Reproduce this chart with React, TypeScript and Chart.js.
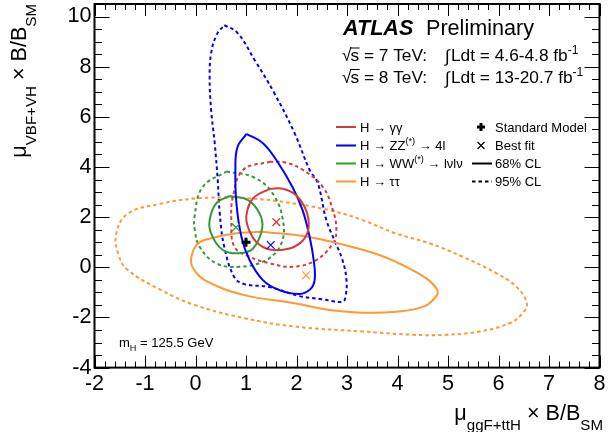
import React, { useEffect, useRef } from 'react';
import { Chart, registerables } from 'chart.js';

Chart.register(...registerables);

// ---------- data ----------
const xTicks = [-2, -1, 0, 1, 2, 3, 4, 5, 6, 7, 8];
const yTicks = [-4, -2, 0, 2, 4, 6, 8, 10];
const xRange = [-2, 8];
const yRange = [-4, 10.5];
const xMinorStep = 0.2;
const yMinorStep = 0.5;

// contours: [mu_ggF+ttH, mu_VBF+VH]
const gg68 = [[1.47,3.13],[1.73,3.13],[1.99,2.87],[2.19,2.27],[2.24,1.60],[2.13,1.08],[1.86,0.75],[1.47,0.71],[1.20,1.02],[1.04,1.60],[1.01,2.10],[1.14,2.75],[1.47,3.13]];
const gg95 = [[1.47,4.21],[1.80,4.17],[2.13,3.88],[2.52,3.21],[2.72,2.28],[2.79,1.48],[2.72,0.95],[2.39,0.29],[1.93,0.02],[1.47,0.16],[1.07,0.42],[0.77,0.82],[0.71,1.88],[0.74,2.81],[0.94,3.88],[1.47,4.21]];
const zz68 = [[1.01,5.32],[1.33,4.96],[1.60,4.28],[1.92,3.20],[2.12,2.28],[2.26,1.21],[2.34,0.29],[2.36,-0.50],[2.27,-0.88],[2.06,-1.06],[1.66,-0.91],[1.33,-0.50],[1.07,0.29],[0.91,1.21],[0.81,2.56],[0.79,3.88],[0.83,4.79],[1.01,5.32]];
const zz95 = [[0.57,9.66],[0.83,9.35],[1.17,8.27],[1.56,6.95],[1.96,5.36],[2.26,3.88],[2.42,3.36],[2.59,1.89],[2.75,1.08],[2.91,0.29],[2.99,-0.51],[2.97,-1.18],[2.91,-1.38],[2.50,-1.27],[2.06,-1.15],[1.47,-0.79],[0.97,-0.67],[0.77,-0.40],[0.57,0.81],[0.48,2.16],[0.44,3.48],[0.38,4.96],[0.31,6.27],[0.28,7.59],[0.31,8.55],[0.42,9.27],[0.57,9.66]];
const ww68 = [[0.67,2.84],[1.04,2.68],[1.27,2.14],[1.32,1.55],[1.14,0.75],[0.87,0.56],[0.54,0.69],[0.31,1.35],[0.28,1.88],[0.41,2.55],[0.67,2.84]];
const ww95 = [[0.61,3.82],[1.14,3.60],[1.53,2.94],[1.73,1.88],[1.70,0.95],[1.40,0.29],[0.87,0.02],[0.41,0.16],[0.08,0.82],[-0.01,1.45],[-0.02,2.01],[0.14,3.20],[0.61,3.82]];
const tt68 = [[1.30,1.42],[2.22,1.22],[2.95,0.89],[3.64,0.49],[4.17,0.02],[4.57,-0.44],[4.77,-0.84],[4.78,-1.11],[4.53,-1.56],[3.97,-1.77],[3.31,-1.81],[2.65,-1.70],[1.96,-1.43],[0.97,-1.11],[0.18,-0.51],[-0.06,0.01],[-0.08,0.43],[0.02,0.89],[0.18,1.09],[0.77,1.35],[1.30,1.42]];
const tt95 = [[0.77,2.80],[1.63,2.64],[2.65,2.28],[3.31,1.88],[3.97,1.35],[4.63,0.96],[5.29,0.42],[5.96,-0.24],[6.35,-0.77],[6.56,-1.43],[6.48,-1.83],[6.22,-2.23],[5.62,-2.56],[4.96,-2.69],[4.30,-2.69],[3.31,-2.56],[1.96,-2.36],[0.97,-2.03],[-0.02,-1.50],[-0.68,-0.91],[-1.34,-0.11],[-1.52,0.48],[-1.57,1.34],[-1.34,2.14],[-0.68,2.54],[-0.02,2.74],[0.77,2.80]];

const bestFits = [[1.60, 1.80], [1.49, 0.89], [0.80, 1.59], [2.19, -0.32]];
const smPoint = [1.0, 1.0];

const channelColors = ['#d23c3c', '#0000ff', '#339933', '#ff9933'];
const contours68 = [gg68, zz68, ww68, tt68];
const contours95 = [gg95, zz95, ww95, tt95];

type Part = { t: string; s?: 'sup' | 'sub' };
const legendLabels: Part[][] = [
  [{ t: 'H \u2192 \u03b3\u03b3' }],
  [{ t: 'H \u2192 ZZ' }, { t: '(*)', s: 'sup' }, { t: ' \u2192 4l' }],
  [{ t: 'H \u2192 WW' }, { t: '(*)', s: 'sup' }, { t: ' \u2192 l\u03bdl\u03bd' }],
  [{ t: 'H \u2192 \u03c4\u03c4' }],
];
const styleLabels = ['Standard Model', 'Best fit', '68% CL', '95% CL'];

// ---------- drawing helpers ----------
const FAM = '"Liberation Sans", Arial, Helvetica, sans-serif';
const f = (size: number, style = '') => `${style} ${size}px ${FAM}`.trim();

function partsWidth(ctx: CanvasRenderingContext2D, parts: Part[], size: number, sc = 0.7) {
  let w = 0;
  for (const p of parts) {
    ctx.font = f(p.s ? size * sc : size);
    w += ctx.measureText(p.t).width;
  }
  return w;
}

function drawParts(ctx: CanvasRenderingContext2D, x: number, y: number, parts: Part[], size: number, sc = 0.7, subDrop = 0.3, supRise = 0.42) {
  let cx = x;
  ctx.textBaseline = 'alphabetic';
  ctx.textAlign = 'left';
  for (const p of parts) {
    const s = p.s ? size * sc : size;
    ctx.font = f(s);
    const dy = p.s === 'sup' ? -size * supRise : p.s === 'sub' ? size * subDrop : 0;
    ctx.fillText(p.t, cx, y + dy);
    cx += ctx.measureText(p.t).width;
  }
  return cx;
}

const overlay = {
  id: 'overlay',
  afterDatasetsDraw(chart: any) {
    const { ctx, chartArea: a, scales } = chart;
    const xs = scales.x, ys = scales.y;
    ctx.save();
    ctx.strokeStyle = '#000';
    ctx.lineWidth = 1;
    ctx.beginPath();
    const nx = Math.round((xRange[1] - xRange[0]) / xMinorStep);
    for (let i = 0; i <= nx; i++) {
      const v = xRange[0] + i * xMinorStep;
      const major = xTicks.some(t => Math.abs(t - v) < 1e-6);
      const len = major ? 12 : 6;
      const px = Math.round(xs.getPixelForValue(v)) + 0.5;
      ctx.moveTo(px, a.bottom); ctx.lineTo(px, a.bottom - len);
      ctx.moveTo(px, a.top); ctx.lineTo(px, a.top + len);
    }
    const ny = Math.floor((yRange[1] - yRange[0]) / yMinorStep + 1e-6);
    for (let i = 0; i <= ny; i++) {
      const v = yRange[0] + i * yMinorStep;
      const major = yTicks.some(t => Math.abs(t - v) < 1e-6);
      const len = major ? 15 : 7.5;
      const py = Math.round(ys.getPixelForValue(v)) + 0.5;
      ctx.moveTo(a.left, py); ctx.lineTo(a.left + len, py);
      ctx.moveTo(a.right, py); ctx.lineTo(a.right - len, py);
    }
    ctx.stroke();
    ctx.lineWidth = 2;
    ctx.strokeRect(a.left, a.top, a.right - a.left, a.bottom - a.top);
    ctx.restore();
  },
  afterDraw(chart: any) {
    const { ctx } = chart;
    ctx.save();
    ctx.fillStyle = '#000';
    ctx.strokeStyle = '#000';

    // ATLAS Preliminary
    ctx.textBaseline = 'alphabetic';
    ctx.textAlign = 'left';
    ctx.font = f(21.6, 'italic bold');
    ctx.fillText('ATLAS', 343, 34.5);
    ctx.font = f(21.6);
    ctx.fillText('Preliminary', 426, 34.5);

    // energy / lumi lines
    const lines = [
      ['7', '4.6-4.8'],
      ['8', '13-20.7'],
    ];
    lines.forEach((l, i) => {
      const by = 61 + i * 21.5;
      ctx.font = f(17.3);
      ctx.fillText('\u221a', 342, by);
      const rw = ctx.measureText('\u221a').width;
      const sx = 342 + rw - 1;
      ctx.fillText('s', sx, by);
      const sw = ctx.measureText('s').width;
      ctx.lineWidth = 1;
      ctx.beginPath();
      ctx.moveTo(sx - 0.5, by - 13.5 + 0.5);
      ctx.lineTo(sx + sw + 0.5, by - 13.5 + 0.5);
      ctx.stroke();
      ctx.fillText(` = ${l[0]} TeV:`, sx + sw, by);
      ctx.fillText('\u222b', 445, by + 1);
      drawParts(ctx, 451, by, [{ t: `Ldt = ${l[1]} fb` }, { t: '-1', s: 'sup' }], 17.3, 0.7, 0.3, 0.4);
    });

    // legend: channels
    const rowY = [127, 145.5, 163.5, 181.5];
    channelColors.forEach((c, i) => {
      ctx.strokeStyle = c;
      ctx.lineWidth = 2;
      ctx.setLineDash([]);
      ctx.beginPath();
      ctx.moveTo(336, rowY[i]); ctx.lineTo(356, rowY[i]);
      ctx.stroke();
      ctx.fillStyle = '#000';
      drawParts(ctx, 360, rowY[i] + 4.6, legendLabels[i], 13, 0.7, 0.3, 0.45);
    });
    // legend: styles
    ctx.strokeStyle = '#000';
    ctx.lineWidth = 3;
    ctx.beginPath();
    ctx.moveTo(477, rowY[0]); ctx.lineTo(485, rowY[0]);
    ctx.moveTo(481, rowY[0] - 4); ctx.lineTo(481, rowY[0] + 4);
    ctx.stroke();
    ctx.lineWidth = 1.2;
    ctx.beginPath();
    ctx.moveTo(477.5, rowY[1] - 3.5); ctx.lineTo(484.5, rowY[1] + 3.5);
    ctx.moveTo(484.5, rowY[1] - 3.5); ctx.lineTo(477.5, rowY[1] + 3.5);
    ctx.stroke();
    ctx.lineWidth = 2;
    ctx.beginPath();
    ctx.moveTo(472, rowY[2]); ctx.lineTo(492, rowY[2]);
    ctx.stroke();
    ctx.setLineDash([3.5, 3]);
    ctx.beginPath();
    ctx.moveTo(472, rowY[3]); ctx.lineTo(492, rowY[3]);
    ctx.stroke();
    ctx.setLineDash([]);
    ctx.fillStyle = '#000';
    ctx.font = f(13);
    ctx.textAlign = 'left';
    ctx.textBaseline = 'alphabetic';
    styleLabels.forEach((s, i) => ctx.fillText(s, 495, rowY[i] + 4.6));

    // mH label
    drawParts(ctx, 119, 347, [{ t: 'm' }, { t: 'H', s: 'sub' }, { t: ' = 125.5 GeV' }], 13, 0.7, 0.3);

    // x title
    const xt: Part[] = [{ t: '\u03bc' }, { t: 'ggF+ttH', s: 'sub' }, { t: ' \u00d7 B/B' }, { t: 'SM', s: 'sub' }];
    const xw = partsWidth(ctx, xt, 21.6);
    drawParts(ctx, 603 - xw, 420, xt, 21.6, 0.7, 0.45);

    // y title
    const yt: Part[] = [{ t: '\u03bc' }, { t: 'VBF+VH', s: 'sub' }, { t: ' \u00d7 B/B' }, { t: 'SM', s: 'sub' }];
    const yw = partsWidth(ctx, yt, 21.6);
    ctx.save();
    ctx.translate(26, 4 + yw);
    ctx.rotate(-Math.PI / 2);
    drawParts(ctx, 0, 0, yt, 21.6, 0.7, 0.45);
    ctx.restore();

    ctx.restore();
  },
};

const toPts = (arr: number[][]) => arr.map(p => ({ x: p[0], y: p[1] }));

export default function App() {
  const ref = useRef<HTMLCanvasElement | null>(null);
  useEffect(() => {
    if (!ref.current) return;
    const datasets: any[] = [];
    datasets.push({
      data: [{ x: smPoint[0], y: smPoint[1] }],
      pointStyle: 'cross', pointRadius: 4.5, pointBorderWidth: 3,
      borderColor: '#000', backgroundColor: '#000', showLine: false, order: 0,
    });
    bestFits.forEach((b, i) => datasets.push({
      data: [{ x: b[0], y: b[1] }],
      pointStyle: 'crossRot', pointRadius: 5.5, pointBorderWidth: 1.2,
      borderColor: channelColors[i], backgroundColor: channelColors[i], showLine: false, order: 1,
    }));
    contours68.forEach((c, i) => datasets.push({
      data: toPts(c), showLine: true, pointRadius: 0, borderWidth: 2,
      borderColor: channelColors[i], tension: 0.4, fill: false, order: 2,
    }));
    contours95.forEach((c, i) => datasets.push({
      data: toPts(c), showLine: true, pointRadius: 0, borderWidth: 2, borderDash: [3.5, 3],
      borderColor: channelColors[i], tension: 0.4, fill: false, order: 3,
    }));

    const tickFont = { family: FAM, size: 21.6 };
    const chart = new Chart(ref.current, {
      type: 'scatter',
      data: { datasets },
      options: {
        responsive: false,
        animation: false,
        devicePixelRatio: 1,
        layout: { autoPadding: false, padding: { left: 0, top: 4, right: 15.5, bottom: 0 } },
        plugins: { legend: { display: false }, tooltip: { enabled: false } },
        events: [],
        scales: {
          x: {
            type: 'linear', min: xRange[0], max: xRange[1],
            afterBuildTicks: (s: any) => { s.ticks = xTicks.map(v => ({ value: v })); },
            afterFit: (s: any) => { s.height = 64.4; s.paddingLeft = 0; s.paddingRight = 0; s.paddingTop = 0; s.paddingBottom = 0; },
            grid: { display: false, drawTicks: false },
            border: { display: false },
            ticks: { font: tickFont, color: '#000', padding: 3, maxRotation: 0, autoSkip: false },
          },
          y: {
            type: 'linear', min: yRange[0], max: yRange[1],
            afterBuildTicks: (s: any) => { s.ticks = yTicks.map(v => ({ value: v })); },
            afterFit: (s: any) => { s.width = 94.5; s.paddingLeft = 0; s.paddingRight = 0; s.paddingTop = 0; s.paddingBottom = 0; },
            grid: { display: false, drawTicks: false },
            border: { display: false },
            ticks: { font: tickFont, color: '#000', padding: 3, autoSkip: false },
          },
        },
      } as any,
      plugins: [overlay],
    });
    return () => chart.destroy();
  }, []);
  return (
    <div style={{ position: 'absolute', left: 0, top: 0, width: 615, height: 432, background: '#fff' }}>
      <canvas ref={ref} width={615} height={432} style={{ width: 615, height: 432, display: 'block' }} />
    </div>
  );
}
